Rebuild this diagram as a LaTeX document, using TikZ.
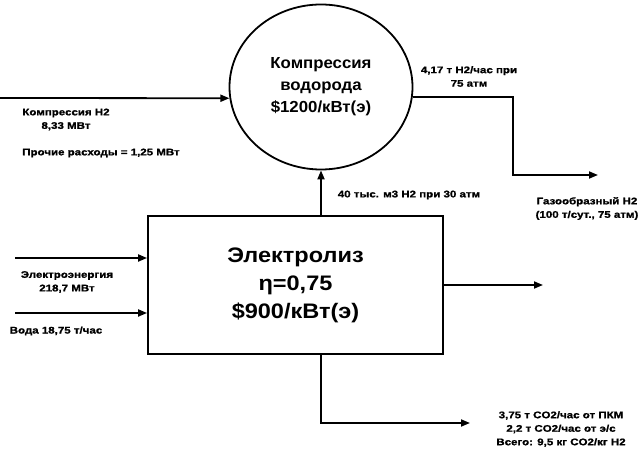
\documentclass[tikz,border=0pt]{standalone}
\usepackage{fontspec}
\setmainfont{Liberation Sans}
\newfontfamily\smallwide[FakeStretch=1.2,FakeBold=1.2]{Liberation Sans}
\newfontfamily\boxwide[FakeStretch=1.12]{Liberation Sans}
\newfontfamily\circwide[FakeStretch=1.05]{Liberation Sans}
\usetikzlibrary{shapes.geometric,arrows.meta}
\begin{document}
\begin{tikzpicture}[x=1pt,y=-1pt,
  flow/.style={line width=1.8pt,-{Triangle[length=9pt,width=7pt]}},
  lbl/.style={font=\smallwide\bfseries\fontsize{9.6}{13.5}\selectfont,align=center,inner sep=0pt},
  proc/.style={draw,line width=1.8pt,align=center}]
\useasboundingbox (0,0) rectangle (643,454);
\node[proc,ellipse,minimum width=183pt,minimum height=165pt,inner sep=0pt,
  font=\circwide\bfseries\fontsize{16}{22}\selectfont] (comp) at (321,87)
  {Компрессия\\водорода\\\$1200/кВт(э)};
\node[proc,rectangle,minimum width=295pt,minimum height=138pt,inner sep=0pt,
  font=\boxwide\bfseries\fontsize{21}{28}\selectfont] (elec) at (295.5,285)
  {Электролиз\\η=0,75\\\$900/кВт(э)};
\coordinate (inH2) at (0,98);
\coordinate (bend) at (513,175);
\coordinate (gasend) at (598,175);
\coordinate (inE) at (15,258);
\coordinate (inW) at (15,313);
\coordinate (outR) at (543,285);
\coordinate (co2end) at (470,423);
\draw[flow] (inH2) -- (comp.187);
\draw[flow] (comp.-6) -| (bend) -- (gasend);
\draw[flow] (elec.north -| comp.south) -- (comp.south);
\draw[flow] (inE) -- (inE -| elec.west);
\draw[flow] (inW) -- (inW -| elec.west);
\draw[flow] (elec.east) -- (outR);
\draw[flow] (elec.south -| comp.south) |- (co2end);
\node[lbl] (l1) at (66,119.5) {Компрессия H2\\8,33 МВт};
\node[lbl] (l2) at (101,153) {Прочие расходы = 1,25 МВт};
\node[lbl] (l3) at (469,76.5) {4,17 т H2/час при\\75 атм};
\node[lbl] (l4) at (409,195) {40 тыс. м3 H2 при 30 атм};
\node[lbl] (l5) at (587,208.5) {Газообразный H2\\(100 т/сут., 75 атм)};
\node[lbl] (l6) at (67,282) {Электроэнергия\\218,7 МВт};
\node[lbl] (l7) at (56,331) {Вода 18,75 т/час};
\node[lbl] (l8) at (561,429) {3,75 т CO2/час от ПКМ\\2,2 т CO2/час от э/с\\Всего: 9,5 кг CO2/кг H2};
\end{tikzpicture}
\end{document}
